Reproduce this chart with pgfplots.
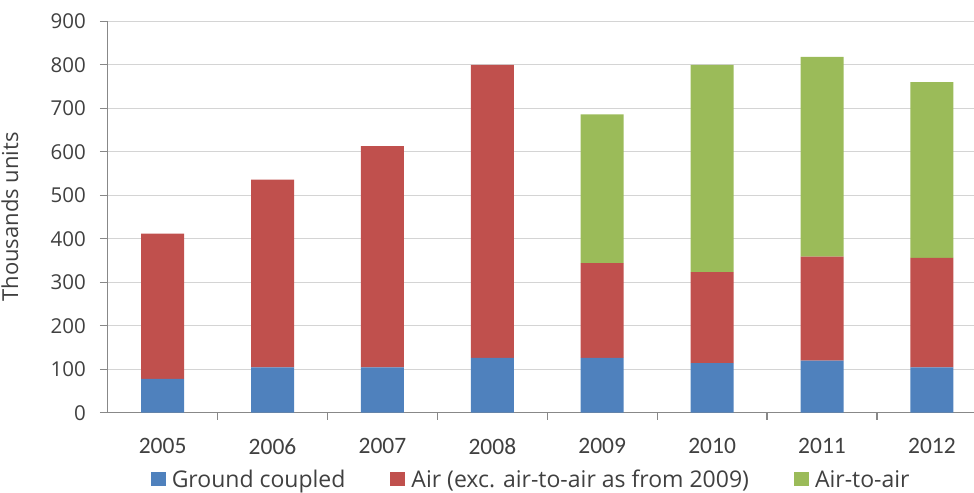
\documentclass[border=0pt]{standalone}
\usepackage{fontspec}
\setmainfont{Open Sans}
\newfontfamily\yearfont{Carlito}
\usepackage{pgfplots}
\pgfplotsset{compat=1.18}

\definecolor{ground}{HTML}{4F81BD}
\definecolor{airred}{HTML}{C0504D}
\definecolor{airair}{HTML}{9BBB59}
\definecolor{gridgray}{HTML}{D4D4D4}
\definecolor{axisgray}{HTML}{888888}
\definecolor{labelgray}{HTML}{404040}

\begin{document}
\begin{tikzpicture}
\begin{axis}[
  scale only axis,
  width=866.3pt, height=391.4pt,
  ybar stacked, bar width=43pt,
  xmin=-0.5, xmax=7.383,
  ymin=0, ymax=900,
  xtick={0,...,7},
  xticklabels={2005,2006,2007,2008,2009,2010,2011,2012},
  minor x tick num=1,
  ytick={0,100,...,900},
  axis lines*=left,
  axis line style={axisgray, line width=1.3pt},
  tick align=outside,
  major tick length=7.7pt,
  minor tick length=7pt,
  major x tick style={draw=none},
  minor x tick style={axisgray, line width=1.3pt},
  ytick style={axisgray, line width=1.3pt},
  ymajorgrids,
  grid style={gridgray, line width=1.3pt},
  /pgf/number format/assume math mode=true,
  yticklabel style={font=\fontsize{20.5pt}{24pt}\selectfont, text=labelgray, inner sep=0pt, anchor=east, xshift=-14pt},
  xticklabel style={font=\yearfont\fontsize{23.5pt}{26pt}\selectfont, text=labelgray, inner sep=0pt, anchor=north, yshift=-18pt},
  ylabel={Thousands units},
  ylabel style={font=\fontsize{22pt}{26pt}\selectfont, text=labelgray, at={(axis description cs:-0.1128,0.5)}, anchor=center},
  legend columns=3,
  legend style={
    at={(axis description cs:0.0497,-0.1707)}, anchor=west,
    draw=none, fill=none, inner sep=0pt, outer sep=0pt,
    font=\fontsize{23pt}{27pt}\selectfont, text=labelgray,
    nodes={inner sep=0pt},
    /tikz/every odd column/.append style={column sep=6pt},
    /tikz/every even column/.append style={column sep=45pt},
  },
  legend image code/.code={\fill[#1] (0pt,-7pt) rectangle (15pt,7pt);},
]
% Ground-coupled heat pumps
\addplot[fill=ground, draw=none] coordinates {
  (0,78) (1,104) (2,104) (3,126) (4,126) (5,114) (6,120) (7,104)};
% Air heat pumps (air-to-air excluded from 2009 on)
\addplot[fill=airred, draw=none] coordinates {
  (0,334) (1,432) (2,509) (3,674) (4,218) (5,209) (6,239) (7,252)};
% Air-to-air heat pumps, reported separately from 2009
\addplot[fill=airair, draw=none] coordinates {
  (0,0) (1,0) (2,0) (3,0) (4,342) (5,477) (6,459) (7,404)};
\legend{Ground coupled, Air (exc. air-to-air as from 2009), Air-to-air}
\end{axis}
\pgfresetboundingbox
\path[use as bounding box]
  ([shift={(-107.7pt,-80.3pt)}]current axis.south west)
  rectangle ([shift={(0pt,21.3pt)}]current axis.north east);
\end{tikzpicture}
\end{document}
